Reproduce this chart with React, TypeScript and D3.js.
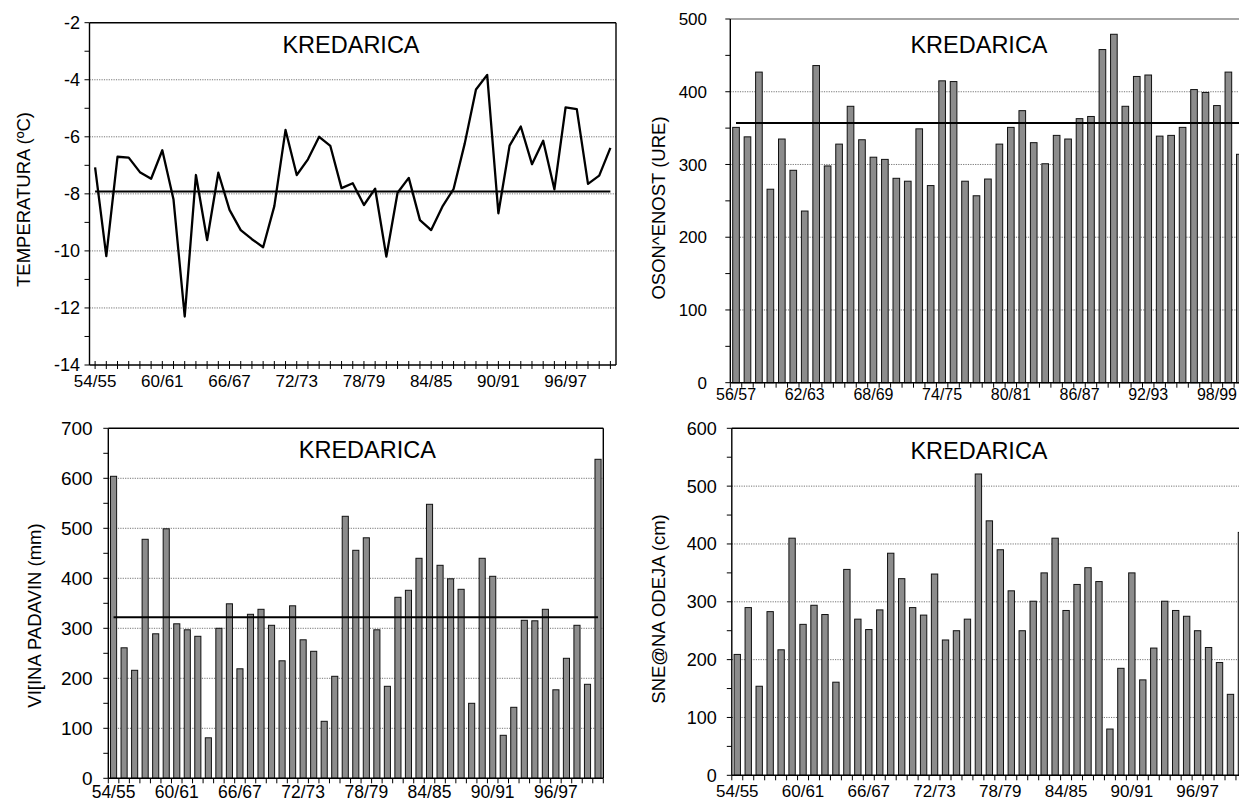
import React from 'react';
import * as d3 from 'd3';

// ---------------- DATA ----------------
const temperature = [
  -7.07, -10.18, -6.7, -6.73, -7.24, -7.47, -6.47, -8.2, -12.3, -7.34,
  -9.62, -7.26, -8.56, -9.27, -9.59, -9.87, -8.43, -5.76, -7.34, -6.79,
  -6.0, -6.32, -7.8, -7.63, -8.39, -7.82, -10.2, -7.96, -7.44, -8.92,
  -9.27, -8.45, -7.83, -6.23, -4.34, -3.83, -8.68, -6.31, -5.64, -6.96,
  -6.14, -7.84, -4.97, -5.03, -7.65, -7.36, -6.39,
];
const temperatureMean = -7.92;

const sunshine = [
  351, 338, 427, 266, 335, 292, 236, 436, 298, 328,
  380, 334, 310, 307, 281, 277, 349, 271, 415, 414,
  277, 257, 280, 328, 351, 374, 330, 301, 340, 335,
  363, 366, 458, 479, 380, 421, 423, 339, 340, 351,
  403, 399, 381, 427, 314,
];
const sunshineMean = 357;

const precipitation = [
  604, 261, 216, 478, 289, 499, 309, 297, 284, 81,
  300, 349, 219, 328, 338, 306, 235, 345, 277, 254,
  114, 204, 524, 456, 481, 297, 184, 362, 376, 440,
  548, 426, 399, 378, 150, 440, 404, 86, 142, 316,
  315, 338, 177, 240, 306, 188, 638,
];
const precipitationMean = 322;

const snow = [
  209, 290, 154, 283, 217, 410, 261, 294, 278, 161,
  356, 270, 252, 286, 384, 340, 290, 277, 348, 234,
  250, 270, 521, 440, 390, 319, 250, 301, 350, 410,
  285, 330, 359, 335, 80, 185, 350, 165, 220, 301,
  285, 275, 250, 221, 195, 140, 420,
];

const ticksFrom54 = ['54/55', '60/61', '66/67', '72/73', '78/79', '84/85', '90/91', '96/97'];
const ticksFrom56 = ['56/57', '62/63', '68/69', '74/75', '80/81', '86/87', '92/93', '98/99'];

const pad2 = (n: number) => String(n % 100).padStart(2, '0');
const seasons = (startYear: number, count: number) =>
  Array.from({ length: count }, (_, i) => `${pad2(startYear + i)}/${pad2(startYear + i + 1)}`);

const title = 'KREDARICA';
const FONT = "'Liberation Sans', Arial, Helvetica, sans-serif";

type PanelProps = {
  kind: 'line' | 'bar';
  values: number[];
  cats: string[];
  tickLabels: string[];
  mean?: number;
  x0: number; x1: number; yTop: number; yBot: number;
  dom: [number, number];
  major: number; minor: number;
  axisTitle: string; axisTitleX: number; axisTitleY: number;
  titleX: number; titleY: number;
  yLabelX: number; xLabelY: number;
  tickFont: number; yTickFont: number;
  topColor: string;
  rightBorder: boolean;
};

function Panel(p: PanelProps) {
  const x = d3.scaleBand<string>().domain(p.cats).range([p.x0, p.x1]).padding(0);
  const y = d3.scaleLinear().domain(p.dom).range([p.yBot, p.yTop]);
  const bw = x.bandwidth();
  const cx = (c: string) => (x(c) as number) + bw / 2;
  const majors = d3.range(p.dom[0], p.dom[1] + 1e-9, p.major);
  const minors = d3.range(p.dom[0], p.dom[1] + 1e-9, p.minor);
  const grid = majors.filter((v) => v !== p.dom[0] && v !== p.dom[1]);
  const line = d3.line<number>().x((_, i) => cx(p.cats[i])).y((v) => y(v));
  const barW = bw * 0.58;
  const fmt = (v: number) => (v < 0 ? '-' + Math.abs(v) : String(v));

  return (
    <g>
      {grid.map((v) => (
        <line key={'g' + v} x1={p.x0} x2={p.x1} y1={y(v)} y2={y(v)}
          stroke="#666" strokeWidth={0.9} strokeDasharray="1.2,1.2" />
      ))}
      <line x1={p.x0} x2={p.x1} y1={p.yTop} y2={p.yTop} stroke={p.topColor} strokeWidth={1.4} />
      {p.rightBorder && (
        <line x1={p.x1} x2={p.x1} y1={p.yTop} y2={p.yBot} stroke="#000" strokeWidth={1.4} />
      )}
      {p.kind === 'bar' && p.values.map((v, i) => (
        <rect key={'b' + i} x={cx(p.cats[i]) - barW / 2} y={y(v)} width={barW} height={y(p.dom[0]) - y(v)}
          fill="#8c8c8c" stroke="#111" strokeWidth={1} />
      ))}
      {p.mean !== undefined && (
        <line x1={cx(p.cats[0])} x2={cx(p.cats[p.cats.length - 1])} y1={y(p.mean)} y2={y(p.mean)}
          stroke="#000" strokeWidth={2} />
      )}
      {p.kind === 'line' && (
        <path d={line(p.values) || ''} fill="none" stroke="#000" strokeWidth={2.3} strokeLinejoin="round" />
      )}
      <line x1={p.x0} x2={p.x0} y1={p.yTop} y2={p.yBot} stroke="#000" strokeWidth={1.4} />
      {minors.map((v) => (
        <line key={'yt' + v} x1={p.x0 - 5} x2={p.x0} y1={y(v)} y2={y(v)} stroke="#000" strokeWidth={1} />
      ))}
      {majors.map((v) => (
        <text key={'yl' + v} x={p.yLabelX} y={y(v)} dy="0.36em" textAnchor="end"
          fontSize={p.yTickFont} fontFamily={FONT} fill="#000">{fmt(v)}</text>
      ))}
      <line x1={p.x0} x2={p.x1} y1={p.yBot} y2={p.yBot} stroke="#000" strokeWidth={1.4} />
      {p.kind === 'line'
        ? p.cats.map((c) => (
            <line key={'xt' + c} x1={cx(c)} x2={cx(c)} y1={p.yBot - 4} y2={p.yBot + 4} stroke="#000" strokeWidth={1} />
          ))
        : d3.range(p.cats.length + 1).map((i) => (
            <line key={'xt' + i} x1={p.x0 + i * bw} x2={p.x0 + i * bw} y1={p.yBot} y2={p.yBot + 5} stroke="#000" strokeWidth={1} />
          ))}
      {p.tickLabels.map((c) => (
        <text key={'xl' + c} x={cx(c)} y={p.xLabelY} textAnchor="middle"
          fontSize={p.tickFont} fontFamily={FONT} fill="#000">{c}</text>
      ))}
      <text x={p.titleX} y={p.titleY} textAnchor="middle" fontSize={23.5} fontFamily={FONT} fill="#000">{title}</text>
      <text transform={`translate(${p.axisTitleX},${p.axisTitleY}) rotate(-90)`} textAnchor="middle"
        fontSize={18.5} fontFamily={FONT} fill="#000">{p.axisTitle}</text>
    </g>
  );
}

export default function App() {
  return (
    <svg width={1239} height={802} style={{ position: 'absolute', left: 0, top: 0, background: '#fff' }}>
      <rect width={1239} height={802} fill="#fff" />
      <Panel kind="line" values={temperature} cats={seasons(54, temperature.length)} tickLabels={ticksFrom54}
        mean={temperatureMean} x0={89.5} x1={616} yTop={22.7} yBot={365} dom={[-14, -2]} major={2} minor={1}
        axisTitle="TEMPERATURA (ºC)" axisTitleX={30} axisTitleY={199.5} titleX={351} titleY={52.7}
        yLabelX={80} xLabelY={386.5} tickFont={17} yTickFont={18} topColor="#000" rightBorder={true} />
      <Panel kind="bar" values={sunshine} cats={seasons(56, sunshine.length)} tickLabels={ticksFrom56}
        mean={sunshineMean} x0={730.3} x1={730.3 + 45 * 11.45} yTop={19} yBot={382.7} dom={[0, 500]} major={100} minor={50}
        axisTitle="OSON^ENOST (URE)" axisTitleX={665} axisTitleY={208} titleX={979} titleY={53.3}
        yLabelX={707} xLabelY={400} tickFont={16} yTickFont={17} topColor="#888" rightBorder={false} />
      <Panel kind="bar" values={precipitation} cats={seasons(54, precipitation.length)} tickLabels={ticksFrom54}
        mean={precipitationMean} x0={108.3} x1={603.3} yTop={428.3} yBot={778.3} dom={[0, 700]} major={100} minor={50}
        axisTitle="VI[INA PADAVIN (mm)" axisTitleX={41} axisTitleY={615.5} titleX={367.3} titleY={458.3}
        yLabelX={92.7} xLabelY={798} tickFont={17.5} yTickFont={19} topColor="#000" rightBorder={true} />
      <Panel kind="bar" values={snow} cats={seasons(54, snow.length)} tickLabels={ticksFrom54}
        x0={731.8} x1={731.8 + 47 * 10.96} yTop={428.3} yBot={775.3} dom={[0, 600]} major={100} minor={50}
        axisTitle="SNE@NA ODEJA (cm)" axisTitleX={665} axisTitleY={609} titleX={979} titleY={459}
        yLabelX={716.7} xLabelY={796.5} tickFont={17} yTickFont={18} topColor="#000" rightBorder={false} />
    </svg>
  );
}
